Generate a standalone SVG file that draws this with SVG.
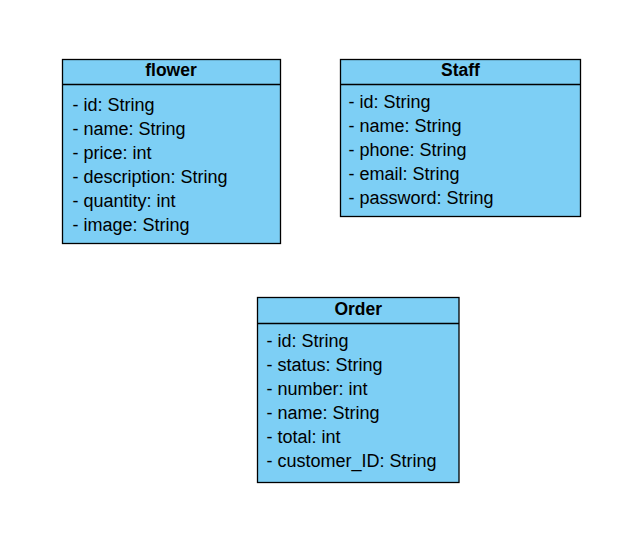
<svg xmlns="http://www.w3.org/2000/svg" width="633" height="541" viewBox="0 0 633 541">
<style>
.box{fill:#7dcff5;stroke:#000;stroke-width:1.3}
.div{stroke:#000;stroke-width:1.3;fill:none}
.t{font-family:"Liberation Sans",Arial,sans-serif;font-size:18px;fill:#000}
.h{font-family:"Liberation Sans",Arial,sans-serif;font-size:17.5px;font-weight:bold;fill:#000;text-anchor:middle}
</style>
<rect width="633" height="541" fill="#fff"/>
<g id="flower">
<rect class="box" x="62.5" y="59.5" width="218" height="184"/>
<line class="div" x1="62.5" y1="84.5" x2="280.5" y2="84.5"/>
<text class="h" x="171" y="76">flower</text>
<text class="t" x="72.5" y="110.5">- id: String</text>
<text class="t" x="72.5" y="134.5">- name: String</text>
<text class="t" x="72.5" y="158.5">- price: int</text>
<text class="t" x="72.5" y="182.5">- description: String</text>
<text class="t" x="72.5" y="206.5">- quantity: int</text>
<text class="t" x="72.5" y="230.5">- image: String</text>
</g>
<g id="staff">
<rect class="box" x="340.5" y="59.5" width="240" height="157"/>
<line class="div" x1="340.5" y1="84.5" x2="580.5" y2="84.5"/>
<text class="h" x="460.5" y="76">Staff</text>
<text class="t" x="348.5" y="108">- id: String</text>
<text class="t" x="348.5" y="132">- name: String</text>
<text class="t" x="348.5" y="156">- phone: String</text>
<text class="t" x="348.5" y="180">- email: String</text>
<text class="t" x="348.5" y="204">- password: String</text>
</g>
<g id="order">
<rect class="box" x="257.5" y="297.5" width="201.5" height="185"/>
<line class="div" x1="257.5" y1="323.5" x2="459" y2="323.5"/>
<text class="h" x="358.25" y="315">Order</text>
<text class="t" x="266.5" y="347">- id: String</text>
<text class="t" x="266.5" y="371">- status: String</text>
<text class="t" x="266.5" y="395">- number: int</text>
<text class="t" x="266.5" y="419">- name: String</text>
<text class="t" x="266.5" y="443">- total: int</text>
<text class="t" x="266.5" y="467">- customer_ID: String</text>
</g>
<g id="connectors"></g>
</svg>
